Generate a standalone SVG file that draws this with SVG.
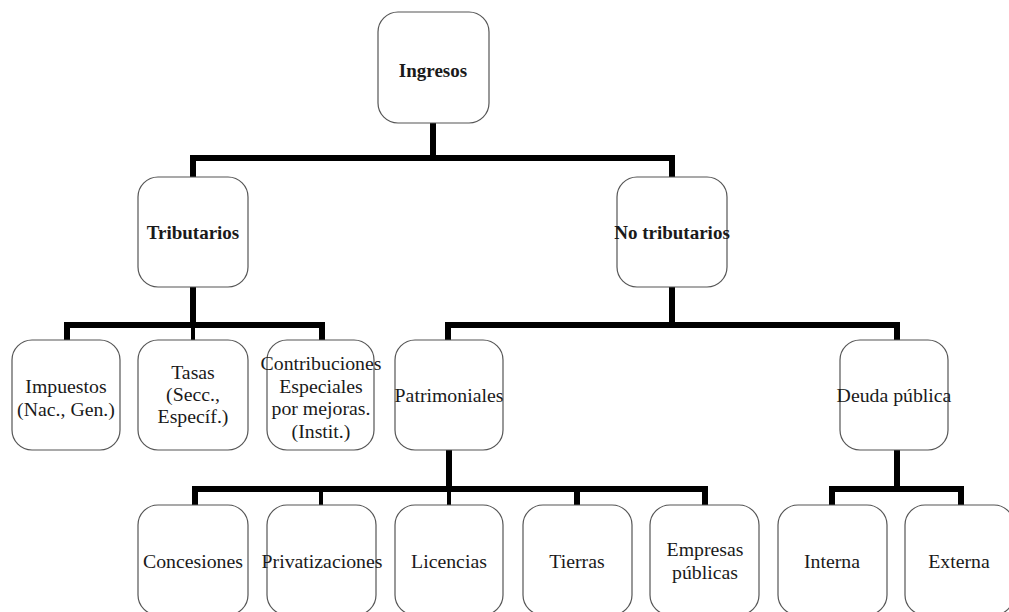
<svg xmlns="http://www.w3.org/2000/svg" width="1009" height="612" viewBox="0 0 1009 612">
<style>
.box{fill:#fff;stroke:#555;stroke-width:1.2}
.t{font-family:"Liberation Serif","Times New Roman",serif;font-size:19.8px;fill:#1a1a1a;text-anchor:middle}
.b{font-weight:bold;font-size:19px}
.c{fill:none;stroke:#000;stroke-width:6;stroke-linecap:butt;stroke-linejoin:miter}
.c2{fill:none;stroke:#000;stroke-width:4}
</style>
<rect width="1009" height="612" fill="#fff"/>
<g id="connectors">
<path class="c" d="M433 123V158M193 177V158H672V177"/>
<path class="c" d="M193 287V325M67 340V325H322V340"/>
<path class="c2" d="M193 325V340"/>
<path class="c" d="M672 287V325M448 340V325H897V340"/>
<path class="c" d="M449 450V489M195 505V489H705V505"/>
<path class="c2" d="M321 489V505M449 489V505"/>
<path class="c" d="M577 489V505"/>
<path class="c" d="M897 450V489M832 505V489H961V505"/>
</g>
<g id="ingresos"><rect class="box" x="378" y="12" width="111" height="111" rx="20"/><text class="t b" x="433" y="77">Ingresos</text></g>
<g id="tributarios"><rect class="box" x="138" y="177" width="110" height="110" rx="20"/><text class="t b" x="193" y="239">Tributarios</text></g>
<g id="no-tributarios"><rect class="box" x="617" y="177" width="110" height="110" rx="20"/><text class="t b" x="672" y="239">No tributarios</text></g>
<g id="impuestos"><rect class="box" x="12" y="340" width="108" height="110" rx="20"/><text class="t" x="66" y="393">Impuestos</text><text class="t" x="66" y="416">(Nac., Gen.)</text></g>
<g id="tasas"><rect class="box" x="138" y="340" width="110" height="110" rx="20"/><text class="t" x="193" y="379">Tasas</text><text class="t" x="193" y="401">(Secc.,</text><text class="t" x="193" y="423">Específ.)</text></g>
<g id="contribuciones"><rect class="box" x="267" y="340" width="107" height="110" rx="20"/><text class="t" x="321" y="370">Contribuciones</text><text class="t" x="321" y="393">Especiales</text><text class="t" x="321" y="415">por mejoras.</text><text class="t" x="321" y="438">(Instit.)</text></g>
<g id="patrimoniales"><rect class="box" x="395" y="340" width="108" height="110" rx="20"/><text class="t" x="449" y="402">Patrimoniales</text></g>
<g id="deuda"><rect class="box" x="840" y="340" width="108" height="110" rx="20"/><text class="t" x="894" y="402">Deuda pública</text></g>
<g id="concesiones"><rect class="box" x="138" y="505" width="110" height="110" rx="20"/><text class="t" x="193" y="568">Concesiones</text></g>
<g id="privatizaciones"><rect class="box" x="267" y="505" width="109" height="110" rx="20"/><text class="t" x="322" y="568">Privatizaciones</text></g>
<g id="licencias"><rect class="box" x="395" y="505" width="108" height="110" rx="20"/><text class="t" x="449" y="568">Licencias</text></g>
<g id="tierras"><rect class="box" x="523" y="505" width="109" height="110" rx="20"/><text class="t" x="577" y="568">Tierras</text></g>
<g id="empresas"><rect class="box" x="650" y="505" width="109" height="110" rx="20"/><text class="t" x="705" y="556">Empresas</text><text class="t" x="705" y="579">públicas</text></g>
<g id="interna"><rect class="box" x="778" y="505" width="109" height="110" rx="20"/><text class="t" x="832" y="568">Interna</text></g>
<g id="externa"><rect class="box" x="905" y="505" width="109" height="110" rx="20"/><text class="t" x="959" y="568">Externa</text></g>
</svg>
